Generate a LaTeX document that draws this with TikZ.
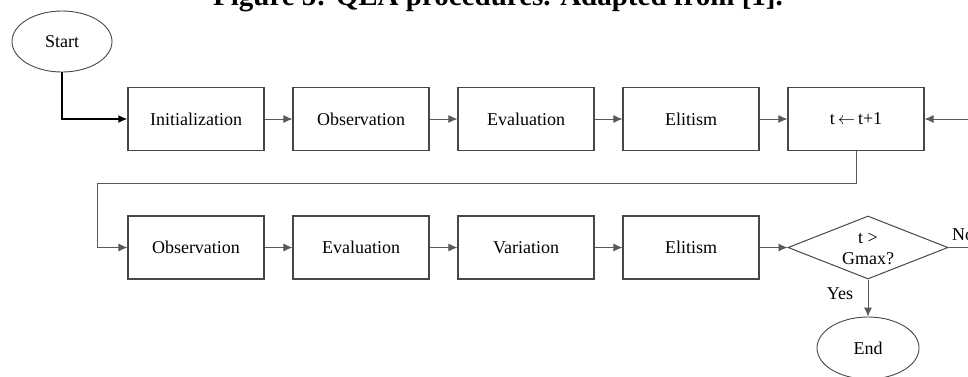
\documentclass[tikz,border=0pt]{standalone}
\usepackage{fontspec}
\setmainfont{Liberation Serif}
\usetikzlibrary{shapes.geometric,arrows.meta}
\begin{document}
\begin{tikzpicture}[x=1pt,y=-1pt,
  txt/.style={font=\fontsize{18}{22}\selectfont},
  box/.style={txt,draw=black!72,line width=1.2pt,minimum width=136pt,minimum height=63pt,inner sep=0pt},
  term/.style={txt,draw=black!72,line width=0.9pt,ellipse,minimum width=100pt,minimum height=61pt,inner sep=0pt},
  dec/.style={draw=black!72,line width=1pt,diamond,minimum width=160pt,minimum height=63pt,inner sep=0pt},
  conn/.style={draw=black!65,line width=0.9pt,-{Latex[length=9pt,width=8pt]}},
  plain/.style={draw=black!65,line width=0.9pt},
]
\useasboundingbox[fill=white] (0,0) rectangle (968,376);

\node[anchor=base,font=\bfseries\fontsize{29}{32}\selectfont] (title) at (498,5) {Figure 5: QEA procedures. Adapted from [1].};

\node[term] (start) at (62,41.5) {Start};

\node[box] (init) at (196,119) {Initialization};
\node[box] (obs1) at (361,119) {Observation};
\node[box] (eval1) at (526,119) {Evaluation};
\node[box] (elit1) at (691,119) {Elitism};
\node[box] (inc) at (856,119) {t\,$\leftarrow$\,t+1};

\node[box] (obs2) at (196,247.5) {Observation};
\node[box] (eval2) at (361,247.5) {Evaluation};
\node[box] (var2) at (526,247.5) {Variation};
\node[box] (elit2) at (691,247.5) {Elitism};
\node[dec] (dec) at (868,247.5) {};
\node[txt,align=center,inner sep=0pt] (dectext) at (868,249) {t >\\[-1pt]Gmax?};

\node[term,minimum width=102pt,minimum height=62pt] (end) at (868,348) {End};

\coordinate (rin) at (968,119);
\coordinate (lp) at (97,183);
\coordinate (nout) at (968,247.5);

\draw[black,line width=1.6pt,-{Latex[length=9pt,width=8pt]}] (start.south) |- (init.west);
\draw[conn] (init.east) -- (obs1.west);
\draw[conn] (obs1.east) -- (eval1.west);
\draw[conn] (eval1.east) -- (elit1.west);
\draw[conn] (elit1.east) -- (inc.west);
\draw[conn] (rin) -- (inc.east);

\draw[conn] (inc.south) |- (lp) |- (obs2.west);
\draw[conn] (obs2.east) -- (eval2.west);
\draw[conn] (eval2.east) -- (var2.west);
\draw[conn] (var2.east) -- (elit2.west);
\draw[conn] (elit2.east) -- (dec.west);
\draw[plain] (dec.east) -- (nout);
\draw[conn] (dec.south) -- (end.north);

\node[txt,anchor=base west,inner sep=0pt] (no) at (952,240) {No};
\node[txt,anchor=base,inner sep=0pt] (yes) at (840,299) {Yes};
\end{tikzpicture}
\end{document}
